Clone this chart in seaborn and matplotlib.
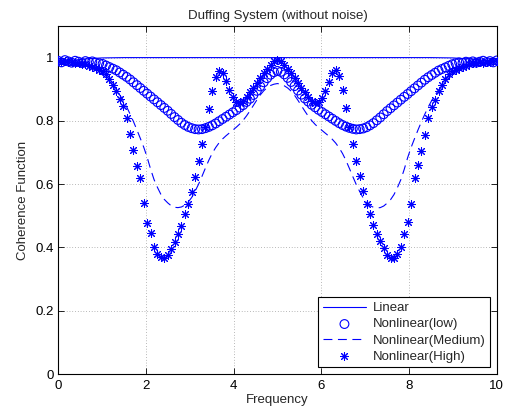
import numpy as np
import matplotlib
matplotlib.use("Agg")
import matplotlib.pyplot as plt
import seaborn as sns

# frequency grid for the marker series (129 bins, 0..10)
freq = np.linspace(0, 10, 129)

# Linear system: a plain line, read at coarser points
linear_freq = [0, 0.25, 0.5, 0.75, 1.0, 1.5, 2, 2.5, 3, 3.5, 4, 4.5, 5,
               5.5, 6, 6.5, 7, 7.5, 8, 8.5, 9, 9.25, 9.5, 9.75, 10]
linear = [0.990, 0.991, 0.994, 0.997, 0.999, 1.0, 1.0, 1.0, 1.0, 1.0, 1.0, 1.0, 1.0,
          1.0, 1.0, 1.0, 1.0, 1.0, 1.0, 1.0, 0.999, 0.997, 0.994, 0.991, 0.990]

low = [0.990, 0.985, 0.992, 0.988, 0.984, 0.990, 0.987, 0.983, 0.989, 0.986,
       0.988, 0.984, 0.982, 0.980, 0.975, 0.970, 0.965, 0.960, 0.953, 0.946,
       0.939, 0.931, 0.922, 0.913, 0.904, 0.895, 0.886, 0.877, 0.868, 0.859,
       0.850, 0.841, 0.832, 0.822, 0.812, 0.803, 0.794, 0.787, 0.781, 0.777,
       0.774, 0.773, 0.774, 0.777, 0.781, 0.786, 0.792, 0.799, 0.806, 0.813,
       0.820, 0.827, 0.834, 0.842, 0.850, 0.860, 0.870, 0.882, 0.895, 0.909,
       0.922, 0.935, 0.946, 0.954, 0.958,
       0.955, 0.947, 0.936, 0.923, 0.910, 0.896, 0.883, 0.871, 0.861, 0.851,
       0.843, 0.835, 0.828, 0.821, 0.814, 0.807, 0.800, 0.793, 0.787, 0.782,
       0.778, 0.775, 0.773, 0.774, 0.776, 0.780, 0.786, 0.793, 0.802, 0.811,
       0.821, 0.831, 0.840, 0.849, 0.858, 0.867, 0.876, 0.885, 0.894, 0.903,
       0.912, 0.921, 0.930, 0.938, 0.945, 0.952, 0.959, 0.964, 0.969, 0.974,
       0.979, 0.982, 0.985, 0.983, 0.987, 0.985, 0.988, 0.984, 0.987, 0.990,
       0.986, 0.989, 0.985, 0.991]

medium = [0.990, 0.988, 0.989, 0.987, 0.986, 0.985, 0.983, 0.980, 0.976, 0.972,
          0.966, 0.960, 0.953, 0.945, 0.936, 0.925, 0.912, 0.898, 0.882, 0.865,
          0.845, 0.822, 0.798, 0.772, 0.745, 0.717, 0.685, 0.648, 0.615, 0.590,
          0.568, 0.552, 0.541, 0.532, 0.527, 0.526, 0.528, 0.534, 0.544, 0.558,
          0.578, 0.600, 0.625, 0.651, 0.676, 0.698, 0.716, 0.731, 0.743, 0.753,
          0.762, 0.771, 0.780, 0.790, 0.802, 0.816, 0.832, 0.849, 0.866, 0.882,
          0.895, 0.905, 0.912, 0.916, 0.918,
          0.916, 0.911, 0.904, 0.894, 0.881, 0.865, 0.848, 0.831, 0.815, 0.801,
          0.789, 0.779, 0.770, 0.761, 0.752, 0.742, 0.730, 0.715, 0.697, 0.675,
          0.650, 0.624, 0.599, 0.577, 0.557, 0.543, 0.533, 0.527, 0.525, 0.526,
          0.531, 0.540, 0.551, 0.567, 0.589, 0.614, 0.647, 0.684, 0.716, 0.744,
          0.771, 0.797, 0.821, 0.844, 0.864, 0.881, 0.897, 0.911, 0.924, 0.935,
          0.944, 0.952, 0.959, 0.965, 0.971, 0.975, 0.979, 0.982, 0.984, 0.985,
          0.986, 0.987, 0.988, 0.990]

high = [0.990, 0.986, 0.989, 0.985, 0.987, 0.984, 0.983, 0.981, 0.979, 0.975,
        0.970, 0.966, 0.962, 0.958, 0.948, 0.932, 0.914, 0.895, 0.868, 0.846,
        0.809, 0.760, 0.707, 0.659, 0.621, 0.540, 0.478, 0.446, 0.402, 0.380,
        0.369, 0.366, 0.376, 0.396, 0.417, 0.443, 0.468, 0.506, 0.538, 0.576,
        0.624, 0.672, 0.726, 0.780, 0.838, 0.895, 0.940, 0.959, 0.950, 0.925,
        0.898, 0.875, 0.860, 0.856, 0.862, 0.875, 0.890, 0.905, 0.920, 0.935,
        0.950, 0.965, 0.978, 0.988, 0.993,
        0.988, 0.978, 0.964, 0.950, 0.935, 0.920, 0.905, 0.890, 0.876, 0.863,
        0.857, 0.859, 0.873, 0.896, 0.924, 0.950, 0.960, 0.942, 0.897, 0.840,
        0.782, 0.728, 0.674, 0.625, 0.578, 0.539, 0.505, 0.470, 0.444, 0.419,
        0.397, 0.377, 0.367, 0.368, 0.380, 0.403, 0.444, 0.480, 0.537, 0.620,
        0.660, 0.706, 0.757, 0.808, 0.845, 0.867, 0.894, 0.913, 0.931, 0.947,
        0.957, 0.962, 0.966, 0.971, 0.975, 0.979, 0.982, 0.984, 0.986, 0.983,
        0.987, 0.985, 0.988, 0.990]

xticks = [0, 2, 4, 6, 8, 10]
yticks = [0, 0.2, 0.4, 0.6, 0.8, 1]
yticklabels = ["0", "0.2", "0.4", "0.6", "0.8", "1"]

sns.set_style("ticks")
plt.rcParams["font.family"] = ["Liberation Sans", "DejaVu Sans"]
fs = 9.5

fig = plt.figure(figsize=(5.09, 4.12), dpi=100)
ax = fig.add_axes([0.114, 0.092, 0.862, 0.845])

blue = (0, 0, 1)
sns.lineplot(x=linear_freq, y=linear, ax=ax, color=blue, lw=0.8, label="Linear")
sns.scatterplot(x=freq, y=low, ax=ax, marker="o", s=40, facecolor="none",
                edgecolor=blue, linewidth=0.8, label="Nonlinear(low)", zorder=3)
sns.lineplot(x=freq, y=medium, ax=ax, color=blue, lw=0.8, label="Nonlinear(Medium)")
ax.lines[-1].set_linestyle((0, (8, 5)))
sns.scatterplot(x=freq, y=high, ax=ax, marker=(8, 2, 0), s=34, color=blue,
                linewidth=0.75, label="Nonlinear(High)", zorder=4)

ax.set_xlim(0, 10)
ax.set_ylim(0, 1.1)
ax.set_xticks(xticks)
ax.set_yticks(yticks)
ax.set_yticklabels(yticklabels)
ax.tick_params(direction="in", top=True, right=True, length=4, width=0.6,
               labelsize=fs, colors="black")
ax.tick_params(axis="x", pad=4)
ax.tick_params(axis="y", pad=3)
ax.grid(True, color="#555555", linestyle=(0, (1, 3)), linewidth=0.5, alpha=0.8)
for s in ax.spines.values():
    s.set_visible(True)
    s.set_color("black")
    s.set_linewidth(0.8)

ax.set_title("Duffing System (without noise)", fontsize=fs, pad=5)
ax.set_xlabel("Frequency", fontsize=fs, labelpad=2)
ax.set_ylabel("Coherence Function", fontsize=fs, labelpad=5)

leg = ax.legend(loc="lower right", fontsize=fs, fancybox=False, framealpha=1,
                edgecolor="black", handlelength=3.3, scatterpoints=1,
                borderaxespad=0.5, labelspacing=0.3, borderpad=0.35,
                handletextpad=0.5)
leg.get_frame().set_linewidth(0.8)

fig.savefig("out.png", dpi=100, facecolor="white")
